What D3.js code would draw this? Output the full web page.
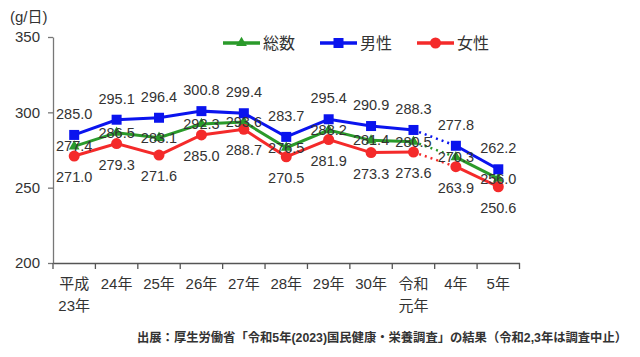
<!DOCTYPE html>
<html><head><meta charset="utf-8">
<script src="https://cdn.jsdelivr.net/npm/d3@7"></script>
<style>
html,body{margin:0;padding:0;background:#fff;}
svg{display:block;}
text{font-family:"Liberation Sans",Arial,"Noto Sans CJK JP",sans-serif;fill:#333;}
</style></head>
<body>
<svg id="chart" width="640" height="357"></svg>
<script>
const categories = ["平成\n23年","24年","25年","26年","27年","28年","29年","30年","令和\n元年","4年","5年"];
const total = [277.4,286.5,283.1,292.3,293.6,276.5,288.2,281.4,280.5,270.3,256.0];
const male = [285.0,295.1,296.4,300.8,299.4,283.7,295.4,290.9,288.3,277.8,262.2];
const female = [271.0,279.3,271.6,285.0,288.7,270.5,281.9,273.3,273.6,263.9,250.6];
const yTicks = [200,250,300,350];
const unitLabel = "(g/日)";
const sourceText = "出展：厚生労働省「令和5年(2023)国民健康・栄養調査」の結果（令和2,3年は調査中止）";

const svg = d3.select("#chart");
const x = d3.scaleBand().domain(d3.range(categories.length)).range([53, 519.5]);
const y = d3.scaleLinear().domain([200,350]).range([263, 37]);
const cx = i => x(i) + x.bandwidth()/2;

// y axis
const ya = svg.append("g").attr("transform","translate(53,0)")
  .call(d3.axisLeft(y).tickValues(yTicks).tickSize(5).tickSizeOuter(0).tickPadding(6));
ya.select(".domain").attr("stroke","#777").attr("stroke-width",1.3);
ya.selectAll(".tick line").attr("stroke","#777").attr("stroke-width",1.3);
ya.selectAll(".tick text").attr("font-size","15px").attr("fill","#333").attr("font-family","Liberation Sans, Arial, sans-serif").attr("dx","-2");

// x axis
const xa = svg.append("g").attr("transform","translate(0,263)")
  .call(d3.axisBottom(x).tickSize(0).tickFormat(""));
xa.select(".domain").attr("stroke","#555").attr("stroke-width",1.3);
const bounds = d3.range(categories.length+1).map(i => i===categories.length ? x.range()[1] : x(i));
xa.selectAll("line.bt").data(bounds).enter().append("line").attr("class","bt")
  .attr("x1",d=>d).attr("x2",d=>d).attr("y1",0).attr("y2",6).attr("stroke","#555").attr("stroke-width",1.3);
const cl = svg.append("g");
categories.forEach((c,i)=>{
  const t = cl.append("text").attr("text-anchor","middle").attr("font-size","15px")
    .attr("font-family","Noto Sans CJK JP, sans-serif");
  c.split("\n").forEach((ln,k)=>{
    t.append("tspan").attr("x",cx(i)).attr("y",289 + k*22).text(ln);
  });
});

// unit label
svg.append("text").attr("x",10).attr("y",22).attr("font-size","15px")
  .attr("font-family","Noto Sans CJK JP, sans-serif").text(unitLabel);

// series
const series = [
  {name:"総数", data: total, color:"#2a9a2a", marker:"triangle", labelDy:0},
  {name:"男性", data: male, color:"#0a14ee", marker:"square", labelDy:-21},
  {name:"女性", data: female, color:"#f42a2a", marker:"circle", labelDy:21}
];
const breakIdx = 8;
function drawMarker(g, type, px, py, color){
  if(type==="square") g.append("rect").attr("x",px-5).attr("y",py-5).attr("width",10).attr("height",10).attr("fill",color);
  else if(type==="circle") g.append("circle").attr("cx",px).attr("cy",py).attr("r",5.5).attr("fill",color);
  else g.append("path").attr("d",d3.symbol(d3.symbolTriangle,50)()).attr("transform",`translate(${px},${py})`).attr("fill",color);
}
const line = d3.line().x(d=>cx(d.i)).y(d=>y(d.v));
const gLines = svg.append("g");
series.forEach(s=>{
  const pts = s.data.map((v,i)=>({i,v}));
  gLines.append("path").attr("d",line(pts.slice(0,breakIdx+1))).attr("fill","none").attr("stroke",s.color).attr("stroke-width",3);
  gLines.append("path").attr("d",line(pts.slice(breakIdx,breakIdx+2))).attr("fill","none").attr("stroke",s.color).attr("stroke-width",2.5).attr("stroke-dasharray","2,4");
  gLines.append("path").attr("d",line(pts.slice(breakIdx+1))).attr("fill","none").attr("stroke",s.color).attr("stroke-width",3);
  pts.forEach(p=>drawMarker(gLines, s.marker, cx(p.i), y(p.v), s.color));
});
// labels
const gLab = svg.append("g");
series.forEach(s=>{
  s.data.forEach((v,i)=>{
    gLab.append("text").attr("x",cx(i)).attr("y",y(v)+s.labelDy).attr("dy","0.35em")
      .attr("text-anchor","middle").attr("font-size","14.5px").attr("fill","#333")
      .text(v.toFixed(1));
  });
});

// legend
const legX = [223, 320, 417];
series.forEach((s,k)=>{
  const g = svg.append("g");
  g.append("line").attr("x1",legX[k]).attr("x2",legX[k]+37).attr("y1",43).attr("y2",43).attr("stroke",s.color).attr("stroke-width",3.5);
  drawMarker(g, s.marker, legX[k]+18.5, 43, s.color);
  g.append("text").attr("x",legX[k]+40).attr("y",43).attr("dy","0.36em").attr("font-size","16px")
    .attr("font-family","Noto Sans CJK JP, sans-serif").text(s.name);
});

// source
svg.append("text").attr("x",137).attr("y",342).attr("font-size","12.5px")
  .attr("textLength",490).attr("lengthAdjust","spacingAndGlyphs")
  .attr("font-weight","bold").attr("font-family","Noto Sans CJK JP, sans-serif").attr("fill","#333")
  .text(sourceText);
</script>
</body></html>
